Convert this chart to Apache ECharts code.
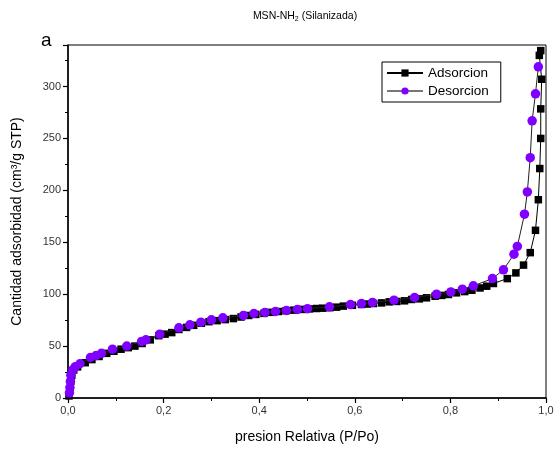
<!DOCTYPE html>
<html>
<head>
<meta charset="utf-8">
<script src="https://cdn.jsdelivr.net/npm/echarts@6/dist/echarts.min.js"></script>
<style>html,body{margin:0;padding:0;background:#fff;}#c{width:559px;height:458px;}</style>
</head>
<body>
<div id="c"></div>
<script>
const xTicks = [0, 0.2, 0.4, 0.6, 0.8, 1.0];
const yTicks = [0, 50, 100, 150, 200, 250, 300];
const seriesNames = ['Adsorcion', 'Desorcion'];
const adsorcion = [
[0.002,2],[0.004,8],[0.006,16],[0.008,22],[0.012,27],[0.02,30],[0.036,34],[0.05,37],[0.065,40],[0.081,43],
[0.096,45],[0.111,47],[0.126,48.5],[0.14,50],[0.155,52.5],[0.172,56],[0.19,60],[0.203,61.5],[0.217,63],[0.232,66],
[0.248,68],[0.263,70],[0.279,72],[0.295,73.5],[0.312,74.5],[0.329,75.5],[0.346,76.5],[0.362,78],[0.378,79.5],[0.393,80.5],
[0.41,81.5],[0.425,82.5],[0.44,83.3],[0.456,84],[0.472,84.6],[0.49,85.3],[0.505,85.8],[0.52,86.2],[0.533,86.5],[0.548,87],
[0.562,87.5],[0.576,88.5],[0.595,89.3],[0.614,90.1],[0.626,90.5],[0.639,91],[0.656,91.6],[0.672,92.6],[0.688,93],[0.704,93.6],
[0.719,94.9],[0.735,95.5],[0.75,96.5],[0.768,98],[0.782,98.8],[0.796,99.7],[0.813,101.3],[0.83,102.5],[0.845,103.8],[0.862,106],
[0.876,107.7],[0.89,110.3],[0.919,115],[0.937,120.5],[0.953,128],[0.967,140],[0.978,161.5],[0.984,191],[0.987,221],[0.989,250],
[0.989,278.5],[0.991,307],[0.986,330],[0.989,334.6]
];
const desorcion = [
[0.003,5],[0.004,10],[0.005,16],[0.006,22],[0.01,27],[0.015,30],[0.025,33],[0.047,39],[0.059,41],[0.07,43],
[0.093,47],[0.123,50],[0.154,54.5],[0.163,56],[0.192,61.5],[0.232,67.6],[0.255,70.5],[0.278,73],[0.3,75.3],[0.324,77.2],
[0.367,79.5],[0.389,81.4],[0.412,82.4],[0.434,83.3],[0.457,84.3],[0.48,85.3],[0.501,86],[0.547,87.8],[0.591,90],[0.614,91],
[0.637,92],[0.682,94.2],[0.725,96.8],[0.771,100],[0.801,102.2],[0.825,104.8],[0.848,108],[0.888,115],[0.911,123.5],[0.933,138.5],
[0.94,146],[0.955,177],[0.961,198.5],[0.967,231.5],[0.971,267],[0.978,293],[0.984,319]
];

const chart = echarts.init(document.getElementById('c'), null, {renderer: 'canvas'});
const font = 'Liberation Sans, Arial, sans-serif';
chart.setOption({
  animation: false,
  backgroundColor: '#fff',
  textStyle: {fontFamily: font},
  title: [{
    text: 'MSN-NH{sub|2} (Silanizada)',
    left: 300, top: 5, textAlign: 'center',
    textStyle: {
      fontSize: 10.5, fontWeight: 'normal', color: '#000', fontFamily: font,
      rich: {sub: {fontSize: 7, verticalAlign: 'bottom', padding: [6, 0, 0, 0], fontFamily: font, color: '#000'}}
    }
  }, {
    text: 'a', left: 36, top: 26,
    textStyle: {fontSize: 19, fontWeight: 'normal', color: '#000', fontFamily: font}
  }],
  legend: {
    data: [
      {name: seriesNames[0], itemStyle: {color: '#000'}, lineStyle: {color: '#000'}},
      {name: seriesNames[1], itemStyle: {color: '#8000ff'}, lineStyle: {color: '#777'}}
    ],
    orient: 'vertical',
    left: 382, top: 62,
    padding: [4, 12, 4, 4],
    itemGap: 4,
    itemWidth: 36, itemHeight: 9,
    borderColor: '#000', borderWidth: 1,
    textStyle: {fontSize: 13.5, color: '#000', fontFamily: font}
  },
  grid: {left: 68, right: 13, top: 45, bottom: 60, show: true, borderColor: '#000', borderWidth: 1, containLabel: false},
  xAxis: {
    type: 'value', min: 0, max: 1, interval: 0.2,
    name: 'presion Relativa (P/Po)', nameLocation: 'middle', nameGap: 32,
    nameTextStyle: {fontSize: 14, color: '#000', fontFamily: font},
    axisLine: {lineStyle: {color: '#000', width: 1.5}},
    axisTick: {show: true, inside: false, length: 5, lineStyle: {color: '#000', width: 1.2}},
    minorTick: {show: true, splitNumber: 2, length: 3, lineStyle: {color: '#000', width: 1}},
    splitLine: {show: false},
    axisLabel: {fontSize: 11, color: '#333', margin: 7, fontFamily: font,
      formatter: v => { const t = xTicks.find(k => Math.abs(k - v) < 1e-9); return t === undefined ? '' : t.toFixed(1).replace('.', ','); }}
  },
  yAxis: {
    type: 'value', min: 0, max: 340, interval: 50,
    name: 'Cantidad adsorbidad (cm³/g STP)', nameLocation: 'middle', nameGap: 44, nameRotate: 90,
    nameTextStyle: {fontSize: 14, color: '#000', fontFamily: font},
    axisLine: {show: true, lineStyle: {color: '#000', width: 1.5}},
    axisTick: {show: true, inside: false, length: 5, lineStyle: {color: '#000', width: 1.2}},
    minorTick: {show: true, splitNumber: 2, length: 3, lineStyle: {color: '#000', width: 1}},
    splitLine: {show: false},
    axisLabel: {fontSize: 11, color: '#333', margin: 7, fontFamily: font,
      formatter: v => yTicks.indexOf(v) >= 0 ? String(v) : ''}
  },
  series: [{
    name: seriesNames[0], type: 'line', data: adsorcion,
    symbol: 'rect', symbolSize: 7.5, showAllSymbol: true,
    lineStyle: {color: '#000', width: 1},
    itemStyle: {color: '#000'}, z: 2
  }, {
    name: seriesNames[1], type: 'line', data: desorcion,
    symbol: 'circle', symbolSize: 9.5, showAllSymbol: true,
    lineStyle: {color: '#222', width: 1},
    itemStyle: {color: '#8000ff'}, z: 3
  }]
});
</script>
</body>
</html>
